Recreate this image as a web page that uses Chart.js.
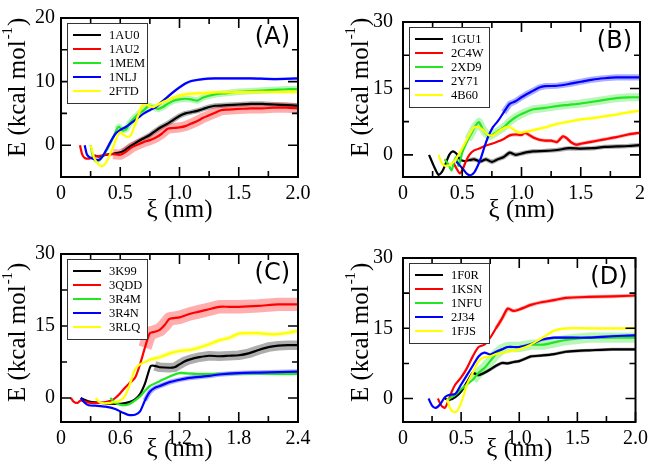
<!DOCTYPE html>
<html>
<head>
<meta charset="utf-8">
<script src="https://cdn.jsdelivr.net/npm/chart.js@4/dist/chart.umd.min.js"></script>
<style>
  body { margin: 0; background: #fff; width: 653px; height: 472px; position: relative; overflow: hidden; }
  canvas { position: absolute; }
</style>
</head>
<body>
<canvas id="cA" width="326" height="236" style="left:0;top:0"></canvas>
<canvas id="cB" width="327" height="236" style="left:326px;top:0"></canvas>
<canvas id="cC" width="326" height="236" style="left:0;top:236px"></canvas>
<canvas id="cD" width="327" height="236" style="left:326px;top:236px"></canvas>
<script>
// ---- data (xi in nm, E in kcal/mol) ----
const colors = ['#000000', '#ff0000', '#22e622', '#0000ff', '#ffff00'];

// panel A
const namesA = ['1AU0', '1AU2', '1MEM', '1NLJ', '2FTD'];
const errA = [0.4, 0.8, 0.5, 0.2, 0.35];      // error bar half-width
const errFromA = [0.5, 0.4, 0.45, 0.9, 0.6];  // where the error bars become visible
const a1AU0 = [[0.28,-1.6],[0.32,-1.8],[0.36,-1.6],[0.42,-1.4],[0.48,-1.2],[0.52,-1.0],[0.56,-0.5],[0.6,0],[0.65,0.6],[0.7,1.1],[0.75,1.6],[0.8,2.3],[0.85,2.9],[0.9,3.4],[0.95,4.0],[1.0,4.6],[1.05,5.0],[1.1,5.2],[1.15,5.4],[1.2,5.7],[1.25,6.0],[1.3,6.2],[1.4,6.3],[1.5,6.4],[1.6,6.5],[1.7,6.5],[1.8,6.4],[1.9,6.3],[2.0,6.2]];
const a1AU2 = [[0.16,0],[0.18,-1.5],[0.2,-2.0],[0.24,-2.1],[0.28,-1.8],[0.32,-1.7],[0.38,-1.5],[0.44,-1.4],[0.5,-1.5],[0.55,-1.0],[0.6,-0.3],[0.65,0.1],[0.7,0.5],[0.75,0.8],[0.8,1.2],[0.85,1.8],[0.9,2.6],[0.95,2.7],[1.0,2.8],[1.05,3.0],[1.1,3.4],[1.15,3.8],[1.2,4.3],[1.25,4.7],[1.3,5.1],[1.35,5.5],[1.4,5.6],[1.5,5.7],[1.6,5.8],[1.7,5.8],[1.8,5.9],[1.9,5.9],[2.0,5.8]];
const a1MEM = [[0.25,0],[0.27,-1.8],[0.3,-2.6],[0.33,-2.3],[0.36,-1.5],[0.4,-0.3],[0.44,1.2],[0.47,2.5],[0.49,2.9],[0.52,2.3],[0.55,2.5],[0.58,3.5],[0.62,4.3],[0.66,5.0],[0.7,5.5],[0.74,6.2],[0.78,6.0],[0.82,5.7],[0.86,6.0],[0.9,6.5],[0.95,7.0],[1.0,7.2],[1.05,7.3],[1.1,7.2],[1.15,7.0],[1.2,7.5],[1.3,8.0],[1.4,8.2],[1.5,8.4],[1.6,8.5],[1.7,8.6],[1.8,8.7],[1.9,8.8],[2.0,8.8]];
const a1NLJ = [[0.2,0],[0.22,-1.5],[0.25,-2.0],[0.28,-2.2],[0.32,-2.3],[0.35,-1.8],[0.38,-0.8],[0.42,0.6],[0.46,1.8],[0.5,2.4],[0.55,2.9],[0.6,3.6],[0.65,4.3],[0.7,5.0],[0.75,5.5],[0.8,6.0],[0.85,6.8],[0.9,7.6],[0.95,8.4],[1.0,9.1],[1.05,9.7],[1.1,10.1],[1.2,10.4],[1.3,10.5],[1.4,10.5],[1.6,10.5],[1.8,10.4],[2.0,10.5]];
const a2FTD = [[0.25,0],[0.28,-2.0],[0.31,-2.9],[0.34,-3.3],[0.37,-3.0],[0.4,-2.0],[0.44,-0.3],[0.47,1.2],[0.5,2.0],[0.53,1.6],[0.56,1.3],[0.59,1.6],[0.62,3.0],[0.65,4.6],[0.68,6.0],[0.71,6.6],[0.74,6.2],[0.78,6.0],[0.82,6.4],[0.86,6.8],[0.9,7.1],[0.95,7.5],[1.0,7.8],[1.05,8.0],[1.1,8.1],[1.2,8.2],[1.3,8.3],[1.4,8.3],[1.6,8.4],[1.8,8.4],[2.0,8.4]];

// panel B
const namesB = ['1GU1', '2C4W', '2XD9', '2Y71', '4B60'];
const errB = [0.5, 0.4, 0.9, 0.7, 0.35];
const errFromB = [0.55, 0.9, 0.55, 0.85, 0.9];
const b1GU1 = [[0.22,0],[0.26,-2.5],[0.3,-4.5],[0.33,-3.8],[0.36,-2.0],[0.39,0],[0.42,0.8],[0.45,0.3],[0.48,-1.0],[0.52,-1.4],[0.56,-1.2],[0.6,-1.0],[0.65,-1.5],[0.7,-1.0],[0.75,-1.6],[0.8,-1.0],[0.85,-0.5],[0.9,0.5],[0.95,0],[1.0,0.3],[1.05,0.6],[1.1,0.8],[1.2,0.9],[1.3,1.1],[1.4,1.5],[1.5,1.4],[1.6,1.5],[1.7,1.8],[1.8,1.9],[1.9,2.0],[2.0,2.2]];
const b2C4W = [[0.42,-1.5],[0.45,-3.0],[0.48,-4.2],[0.5,-3.5],[0.53,-1.5],[0.56,0],[0.6,1.0],[0.65,1.5],[0.7,2.1],[0.75,2.5],[0.8,3.0],[0.85,3.6],[0.9,4.4],[0.95,4.6],[1.0,4.5],[1.03,5.0],[1.07,4.4],[1.1,3.9],[1.15,3.4],[1.2,3.2],[1.25,3.2],[1.3,2.9],[1.35,4.2],[1.38,3.8],[1.42,2.8],[1.46,2.3],[1.5,2.5],[1.6,3.0],[1.7,3.5],[1.8,4.0],[1.9,4.6],[2.0,5.0]];
const b2XD9 = [[0.35,-1.0],[0.38,-2.0],[0.41,-3.5],[0.43,-1.5],[0.45,-0.5],[0.47,-2.5],[0.5,0.5],[0.55,3.5],[0.58,5.0],[0.61,6.5],[0.64,7.4],[0.67,6.0],[0.7,4.8],[0.73,4.2],[0.77,4.8],[0.81,5.5],[0.85,6.2],[0.9,7.5],[0.95,8.5],[1.0,9.2],[1.05,9.8],[1.1,10.3],[1.2,10.6],[1.3,11.0],[1.4,11.3],[1.5,11.6],[1.6,12.0],[1.7,12.4],[1.8,12.8],[1.9,13.0],[2.0,13.0]];
const b2Y71 = [[0.45,-1.5],[0.5,-3.0],[0.54,-4.3],[0.57,-4.6],[0.6,-4.0],[0.63,-2.5],[0.66,-0.5],[0.69,2.0],[0.72,4.2],[0.76,6.3],[0.8,7.6],[0.85,9.6],[0.9,11.5],[0.95,12.1],[1.0,13.0],[1.05,13.8],[1.1,14.5],[1.15,15.2],[1.2,15.5],[1.3,15.6],[1.4,16.0],[1.5,16.5],[1.6,17.0],[1.7,17.3],[1.8,17.5],[1.9,17.5],[2.0,17.5]];
const b4B60 = [[0.3,0],[0.33,-2.0],[0.36,-2.5],[0.4,-2.2],[0.44,-1.2],[0.48,0.5],[0.52,2.5],[0.56,4.5],[0.6,6.2],[0.64,6.3],[0.68,5.5],[0.72,4.5],[0.76,4.4],[0.8,5.2],[0.85,6.0],[0.88,6.3],[0.92,6.0],[0.96,5.2],[1.0,5.0],[1.05,5.3],[1.1,5.6],[1.2,6.2],[1.3,7.0],[1.4,7.5],[1.5,8.0],[1.6,8.3],[1.7,8.7],[1.8,9.1],[1.9,9.6],[2.0,10.0]];

// panel C
const namesC = ['3K99', '3QDD', '3R4M', '3R4N', '3RLQ'];
const errC = [1.0, 1.4, 0.3, 0.5, 0.5];
const errFromC = [0.95, 0.85, 1.2, 0.85, 0.9];
const c3K99 = [[0.2,0],[0.25,-0.5],[0.3,-0.8],[0.4,-1.0],[0.5,-1.2],[0.6,-1.2],[0.7,-0.8],[0.75,-0.3],[0.8,0.8],[0.85,3.0],[0.88,5.0],[0.91,6.7],[0.95,6.7],[1.0,6.4],[1.1,6.3],[1.15,6.4],[1.2,7.0],[1.25,7.6],[1.3,8.0],[1.4,8.5],[1.5,8.8],[1.6,8.7],[1.7,8.8],[1.8,8.9],[1.9,9.3],[2.0,10.0],[2.1,10.6],[2.2,10.9],[2.3,11.0],[2.4,11.0]];
const c3QDD = [[0.1,0],[0.13,-0.8],[0.17,-1.0],[0.2,-0.5],[0.25,-0.8],[0.3,-1.0],[0.4,-1.0],[0.5,-0.6],[0.55,0],[0.6,1.0],[0.65,2.2],[0.7,3.2],[0.75,4.2],[0.8,7.0],[0.85,10.5],[0.9,13.5],[0.95,13.8],[1.0,14.2],[1.05,15.2],[1.1,16.5],[1.2,16.8],[1.3,17.5],[1.4,18.0],[1.5,18.5],[1.6,19.0],[1.7,19.0],[1.8,19.0],[2.0,19.2],[2.2,19.5],[2.4,19.5]];
const c3R4M = [[0.5,0],[0.55,-1.0],[0.6,-1.4],[0.65,-1.5],[0.7,-1.2],[0.75,-0.5],[0.8,0.3],[0.85,1.5],[0.9,2.5],[1.0,3.5],[1.1,4.5],[1.2,5.2],[1.3,5.1],[1.4,5.0],[1.5,5.0],[1.6,5.0],[1.8,5.1],[2.0,5.1],[2.2,5.0],[2.4,5.0]];
const c3R4N = [[0.2,0],[0.24,-1.0],[0.28,-1.5],[0.35,-1.6],[0.45,-1.8],[0.55,-2.3],[0.62,-3.0],[0.68,-3.5],[0.75,-3.5],[0.8,-2.8],[0.85,-0.5],[0.9,1.3],[0.95,2.1],[1.0,2.5],[1.1,3.3],[1.2,3.8],[1.3,4.2],[1.4,4.4],[1.5,4.6],[1.6,4.9],[1.8,5.2],[2.0,5.3],[2.2,5.4],[2.4,5.5]];
const c3RLQ = [[0.35,0],[0.4,-1.0],[0.5,-1.0],[0.6,-0.5],[0.65,0.5],[0.7,3.0],[0.75,6.0],[0.8,7.0],[0.85,7.5],[0.9,8.0],[1.0,8.5],[1.1,9.3],[1.2,9.8],[1.3,10.0],[1.4,10.5],[1.5,11.2],[1.6,12.0],[1.7,12.5],[1.8,13.4],[1.9,13.5],[2.0,13.5],[2.1,13.3],[2.2,13.3],[2.3,13.6],[2.4,14.0]];

// panel D
const namesD = ['1F0R', '1KSN', '1NFU', '2J34', '1FJS'];
const errD = [0.35, 0.4, 1.1, 0.3, 0.3];
const errFromD = [0.6, 0.8, 0.6, 1.0, 1.0];
const d1F0R = [[0.36,0],[0.4,-0.3],[0.45,0.3],[0.5,1.5],[0.55,3.5],[0.58,4.8],[0.6,5.5],[0.65,5.0],[0.7,5.5],[0.75,6.2],[0.8,7.0],[0.85,7.6],[0.9,7.5],[0.95,7.8],[1.0,8.0],[1.05,8.5],[1.1,9.0],[1.2,9.2],[1.3,9.5],[1.4,10.0],[1.5,10.2],[1.6,10.3],[1.8,10.5],[2.0,10.5]];
const d1KSN = [[0.3,0],[0.33,-1.5],[0.36,-2.0],[0.39,-0.5],[0.42,1.5],[0.45,3.0],[0.5,4.5],[0.55,6.5],[0.6,9.0],[0.65,11.0],[0.7,11.5],[0.75,13.0],[0.8,15.0],[0.85,17.0],[0.9,19.2],[0.95,18.7],[1.0,19.0],[1.05,19.5],[1.1,20.0],[1.2,20.6],[1.3,21.0],[1.4,21.5],[1.6,21.7],[1.8,21.8],[2.0,22.0]];
const d1NFU = [[0.38,-0.5],[0.4,0],[0.45,0.8],[0.5,2.0],[0.55,3.0],[0.6,4.0],[0.65,5.5],[0.7,6.5],[0.75,8.0],[0.8,9.5],[0.85,10.5],[0.9,11.0],[1.0,11.0],[1.1,11.5],[1.2,11.5],[1.3,12.0],[1.4,12.5],[1.6,13.0],[1.8,13.0],[2.0,13.0]];
const d2J34 = [[0.22,0],[0.25,-1.5],[0.28,-2.0],[0.32,-1.2],[0.36,0.3],[0.4,0.8],[0.45,1.0],[0.5,3.0],[0.55,5.0],[0.6,7.0],[0.65,9.0],[0.7,9.8],[0.75,9.4],[0.8,10.0],[0.85,10.5],[0.9,11.0],[1.0,11.0],[1.1,11.6],[1.2,12.6],[1.3,13.0],[1.4,13.0],[1.6,13.0],[1.8,13.3],[2.0,13.5]];
const d1FJS = [[0.38,0],[0.4,-1.8],[0.43,-2.8],[0.46,-2.8],[0.49,-1.5],[0.52,0.5],[0.55,3.0],[0.6,5.5],[0.65,8.0],[0.7,8.8],[0.75,9.0],[0.8,9.5],[0.9,10.0],[1.0,10.5],[1.1,11.5],[1.2,13.0],[1.3,14.5],[1.4,15.0],[1.6,15.0],[1.8,15.0],[2.0,15.0]];

// ticks
const xTicks2 = [0, 0.5, 1, 1.5, 2];
const xLabels2 = ['0', '0.5', '1.0', '1.5', '2.0'];
const xLabelsB = ['0', '0.5', '1.0', '1.5', '2'];
const xMinor2 = [0.25, 0.75, 1.25, 1.75];
const xTicksC = [0, 0.6, 1.2, 1.8, 2.4];
const xLabelsC = ['0', '0.6', '1.2', '1.8', '2.4'];
const xMinorC = [0.3, 0.9, 1.5, 2.1];
const yTicksA = [0, 10, 20];
const yMinorA = [5, 15];
const yTicks30 = [0, 15, 30];
const yMinor30 = [7.5, 22.5];

const serif = '"Liberation Serif", "Times New Roman", serif';

// translucent band standing in for the hatched error bars
const errBand = {
  id: 'errBand',
  beforeDatasetsDraw(chart, args, o) {
    const { ctx, chartArea: a, scales: { y } } = chart;
    const unit = Math.abs(y.getPixelForValue(1) - y.getPixelForValue(0));
    ctx.save();
    ctx.beginPath();
    ctx.rect(a.left, a.top, a.right - a.left, a.bottom - a.top);
    ctx.clip();
    ctx.lineJoin = 'round';
    ctx.lineCap = 'butt';
    chart.data.datasets.forEach((ds, i) => {
      const meta = chart.getDatasetMeta(i);
      ctx.globalAlpha = 0.32;
      ctx.strokeStyle = ds.borderColor;
      ctx.lineWidth = Math.max(2, o.err[i] * 2 * unit);
      ctx.beginPath();
      let started = false;
      meta.data.forEach((p, j) => {
        if (ds.data[j].x < o.from[i]) return;
        if (started) ctx.lineTo(p.x, p.y); else { ctx.moveTo(p.x, p.y); started = true; }
      });
      ctx.stroke();
    });
    ctx.restore();
  }
};

// frame, inward ticks, legend box, panel tag, y title with superscript
const decor = {
  id: 'decor',
  afterDatasetsDraw(chart, args, o) {
    const { ctx, chartArea: a, scales: { x, y } } = chart;
    ctx.save();
    ctx.strokeStyle = '#000';
    ctx.lineWidth = 1.6;
    const tick = (vals, len) => {
      vals.forEach(v => {
        const px = x.getPixelForValue(v);
        ctx.beginPath();
        ctx.moveTo(px, a.bottom); ctx.lineTo(px, a.bottom - len);
        ctx.moveTo(px, a.top); ctx.lineTo(px, a.top + len);
        ctx.stroke();
      });
    };
    const tickY = (vals, len) => {
      vals.forEach(v => {
        const py = y.getPixelForValue(v);
        ctx.beginPath();
        ctx.moveTo(a.left, py); ctx.lineTo(a.left + len, py);
        ctx.moveTo(a.right, py); ctx.lineTo(a.right - len, py);
        ctx.stroke();
      });
    };
    tick(o.xMajor, 10); tick(o.xMinor, 6);
    tickY(o.yMajor, 10); tickY(o.yMinor, 6);
    ctx.lineWidth = 2;
    ctx.strokeRect(a.left, a.top, a.right - a.left, a.bottom - a.top);

    // legend
    const lx = a.left + 6, ly = a.top + 5, lw = 80, lh = 80;
    ctx.fillStyle = '#fff';
    ctx.fillRect(lx, ly, lw, lh);
    ctx.lineWidth = 1;
    ctx.strokeStyle = '#333';
    ctx.strokeRect(lx + 0.5, ly + 0.5, lw, lh);
    ctx.font = '12.5px ' + serif;
    ctx.textBaseline = 'middle';
    ctx.textAlign = 'left';
    chart.data.datasets.forEach((ds, i) => {
      const ry = ly + 12 + i * 14;
      ctx.strokeStyle = ds.borderColor;
      ctx.lineWidth = 2;
      ctx.beginPath(); ctx.moveTo(lx + 6, ry); ctx.lineTo(lx + 34, ry); ctx.stroke();
      ctx.fillStyle = '#000';
      ctx.fillText(ds.label, lx + 42, ry + 1);
    });

    // panel tag
    ctx.font = '24px "DejaVu Sans", sans-serif';
    ctx.textAlign = 'right';
    ctx.fillStyle = '#000';
    ctx.fillText(o.tag, a.right - 8, a.top + 20);

    // y axis title
    ctx.translate(o.titleX, a.bottom - 20);
    ctx.rotate(-Math.PI / 2);
    ctx.textAlign = 'left';
    ctx.textBaseline = 'middle';
    ctx.font = '25px ' + serif;
    const t1 = 'E (kcal mol';
    ctx.fillText(t1, 0, 0);
    let w = ctx.measureText(t1).width + 1;
    ctx.font = '15px ' + serif;
    ctx.fillText('-1', w, -10);
    w += ctx.measureText('-1').width + 1;
    ctx.font = '25px ' + serif;
    ctx.fillText(')', w, 0);
    ctx.restore();
  }
};

function makeChart(id, cfg) {
  const datasets = cfg.series.map((pts, i) => ({
    label: cfg.names[i],
    data: pts.map(p => ({ x: p[0], y: p[1] })),
    borderColor: colors[i],
    borderWidth: 2.2,
    pointRadius: 0,
    tension: 0.25,
    order: cfg.series.length - i
  }));
  return new Chart(document.getElementById(id), {
    type: 'line',
    data: { datasets },
    plugins: [errBand, decor],
    options: {
      responsive: false,
      animation: false,
      layout: { padding: { top: cfg.top, right: cfg.right, left: 0, bottom: 0 } },
      plugins: {
        legend: { display: false },
        tooltip: { enabled: false },
        errBand: { err: cfg.err, from: cfg.errFrom },
        decor: { tag: cfg.tag, xMajor: cfg.xTicks, xMinor: cfg.xMinor, yMajor: cfg.yTicks, yMinor: cfg.yMinor, titleX: cfg.titleX }
      },
      scales: {
        x: {
          type: 'linear', min: cfg.xTicks[0], max: cfg.xTicks[cfg.xTicks.length - 1],
          afterBuildTicks: s => { s.ticks = cfg.xTicks.map(v => ({ value: v })); },
          afterFit: s => { s.height = cfg.xh; },
          grid: { display: false, drawTicks: false },
          border: { display: false },
          ticks: { padding: 5, color: '#000', font: { family: serif, size: 20 }, maxRotation: 0, autoSkip: false,
            callback: (v, i) => cfg.xLabels[i] },
          title: { display: true, text: 'ξ (nm)', color: '#000', font: { family: serif, size: 25 }, padding: { top: 0, bottom: cfg.titlePad } }
        },
        y: {
          type: 'linear', min: cfg.yMin, max: cfg.yTicks[cfg.yTicks.length - 1],
          afterBuildTicks: s => { s.ticks = cfg.yTicks.map(v => ({ value: v })); },
          afterFit: s => { s.width = cfg.yw; },
          grid: { display: false, drawTicks: false },
          border: { display: false },
          ticks: { padding: cfg.yPad, color: '#000', font: { family: serif, size: 20 }, autoSkip: false,
            callback: v => String(v) }
        }
      }
    }
  });
}

makeChart('cA', { tag: '(A)', names: namesA, series: [a1AU0, a1AU2, a1MEM, a1NLJ, a2FTD], err: errA, errFrom: errFromA,
  xTicks: xTicks2, xLabels: xLabels2, xMinor: xMinor2, yTicks: yTicksA, yMinor: yMinorA, yMin: -5,
  top: 7, right: 28, xh: 59, yw: 61, yPad: 6, titlePad: 11, titleX: 18 });
makeChart('cB', { tag: '(B)', names: namesB, series: [b1GU1, b2C4W, b2XD9, b2Y71, b4B60], err: errB, errFrom: errFromB,
  xTicks: xTicks2, xLabels: xLabelsB, xMinor: xMinor2, yTicks: yTicks30, yMinor: yMinor30, yMin: -5,
  top: 6, right: 13, xh: 59, yw: 77, yPad: 10, titlePad: 11, titleX: 35 });
makeChart('cC', { tag: '(C)', names: namesC, series: [c3K99, c3QDD, c3R4M, c3R4N, c3RLQ], err: errC, errFrom: errFromC,
  xTicks: xTicksC, xLabels: xLabelsC, xMinor: xMinorC, yTicks: yTicks30, yMinor: yMinor30, yMin: -5,
  top: 15, right: 28, xh: 50, yw: 61, yPad: 6, titlePad: 8, titleX: 18 });
makeChart('cD', { tag: '(D)', names: namesD, series: [d1F0R, d1KSN, d1NFU, d2J34, d1FJS], err: errD, errFrom: errFromD,
  xTicks: xTicks2, xLabels: xLabels2, xMinor: xMinor2, yTicks: yTicks30, yMinor: yMinor30, yMin: -5,
  top: 15, right: 13, xh: 50, yw: 77, yPad: 10, titlePad: 8, titleX: 35 });
</script>
</body>
</html>
